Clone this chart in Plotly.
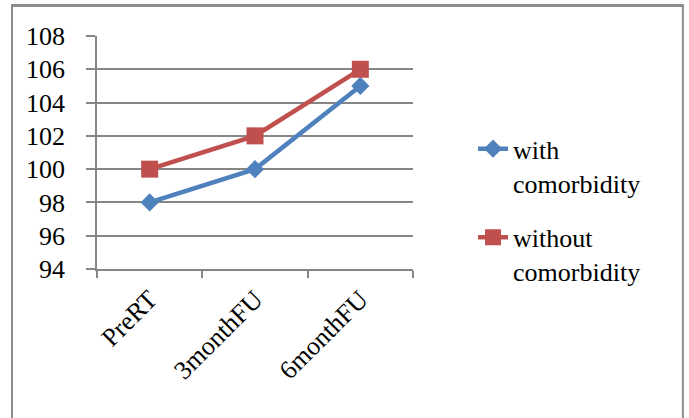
import plotly.graph_objects as go

categories = ["PreRT", "3monthFU", "6monthFU"]
with_comorbidity = [98, 100, 105]
without_comorbidity = [100, 102, 106]
y_ticks = [94, 96, 98, 100, 102, 104, 106, 108]

FONT = "Liberation Serif"
GRID = "#868686"
FS = 26

fig = go.Figure()
fig.add_trace(go.Scatter(
    x=categories, y=with_comorbidity, name="with<br>comorbidity",
    legendgroup="a",
    mode="lines+markers",
    line=dict(color="#4F81BD", width=4.5),
    marker=dict(symbol="diamond", size=14, color="#4F81BD"),
))
fig.add_trace(go.Scatter(
    x=categories, y=without_comorbidity, name="without<br>comorbidity",
    legendgroup="b",
    mode="lines+markers",
    line=dict(color="#C0504D", width=4.5),
    marker=dict(symbol="square", size=17, color="#C0504D"),
))

border = dict(color="#8c8c8c", width=2)
fig.update_layout(
    width=689, height=418,
    margin=dict(l=97, r=276, t=36, b=149, autoexpand=False),
    paper_bgcolor="white", plot_bgcolor="white",
    font=dict(family=FONT, size=FS, color="black"),
    showlegend=True,
    legend=dict(
        x=1.19, y=0.617, xanchor="left", yanchor="top",
        font=dict(family=FONT, size=FS, color="black"),
        tracegroupgap=18, itemwidth=30, valign="top",
        bgcolor="rgba(0,0,0,0)",
    ),
    shapes=[
        dict(type="rect", xref="paper", yref="paper",
             x0=-0.272, x1=1.857, y0=1.124, y1=1.137,
             line=dict(width=0), fillcolor="#8c8c8c", layer="above"),
        dict(type="line", xref="paper", yref="paper",
             x0=-0.269, x1=-0.269, y0=-0.7, y1=1.133, line=border),
        dict(type="line", xref="paper", yref="paper",
             x0=1.854, x1=1.854, y0=-0.7, y1=1.133, line=border),
    ],
)
fig.update_xaxes(
    type="category", range=[-0.5, 2.5],
    tickson="boundaries", ticks="outside", ticklen=7, tickcolor=GRID, tickwidth=1.5,
    showgrid=False, showline=True, linecolor=GRID, linewidth=1.5,
    tickangle=-45, tickfont=dict(family=FONT, size=FS),
    zeroline=False, ticklabelstandoff=3,
)
fig.update_yaxes(
    range=[94, 108], tickvals=y_ticks, ticktext=[str(v) for v in y_ticks],
    ticks="outside", ticklen=9, tickcolor=GRID, tickwidth=1.5,
    showgrid=True, gridcolor=GRID, gridwidth=1.5,
    showline=True, linecolor=GRID, linewidth=1.5,
    zeroline=False, tickfont=dict(family=FONT, size=FS),
    ticklabelstandoff=16,
)

fig.write_html("out.html", config={"displayModeBar": False},
               post_script="document.body.style.margin='0';document.documentElement.style.overflow='hidden';window.scrollTo(0,0);")
